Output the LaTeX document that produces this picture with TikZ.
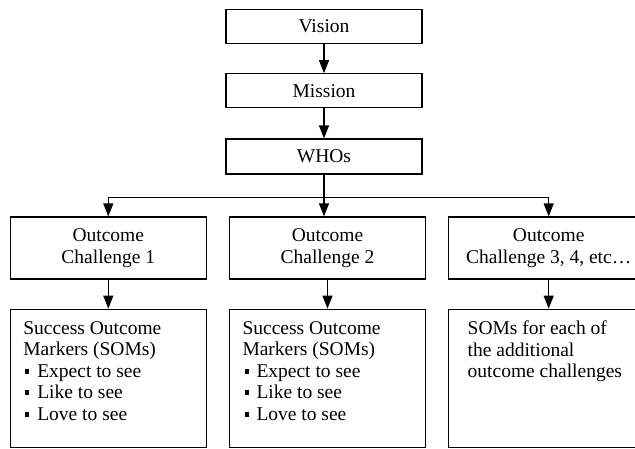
\documentclass[tikz,border=0pt]{standalone}
\usepackage{fontspec}
\setmainfont{Liberation Serif}
\usetikzlibrary{positioning,arrows.meta}
\newcommand{\sqmark}{\makebox[14pt][l]{\hspace{2pt}\rule[3.5pt]{4pt}{5pt}}}
\newcommand{\somtext}[1]{\begin{minipage}[t][114pt][t]{170pt}\raggedright #1\end{minipage}}

\begin{document}
\begin{tikzpicture}[
      every node/.style={font=\fontsize{19.5}{21.5}\selectfont, align=center},
      level/.style={draw, line width=1.2pt, minimum width=196pt, minimum height=34pt, inner sep=2pt},
      challenge/.style={draw, line width=1.2pt, minimum width=196pt, minimum height=62pt, inner sep=2pt},
      markers/.style={draw, line width=1.2pt, minimum width=196pt, minimum height=138pt, inner sep=0pt},
      link/.style={line width=1.2pt, -{Triangle[width=10pt,length=13pt]}}
  ]
    \clip (0,0) rectangle (635pt,-448pt);
    \node[level, minimum height=35pt] (whos) at (324pt,-156.5pt) {WHOs};
    \node[level, above=30pt of whos] (mission) {Mission};
    \node[level, above=29pt of mission] (vision) {Vision};
    \node[challenge] (oc2) at (327.5pt,-248pt) {Outcome\\Challenge 2};
    \node[challenge, left=22pt of oc2] (oc1) {Outcome\\Challenge 1};
    \node[challenge, right=22pt of oc2, minimum width=200pt] (oc3) {Outcome\\Challenge 3, 4, etc…};
    \node[markers, below=29pt of oc1] (som1) {\somtext{Success Outcome\\Markers (SOMs)\\
      \sqmark Expect to see\\\sqmark Like to see\\\sqmark Love to see}};
    \node[markers, below=29pt of oc2] (som2) {\somtext{Success Outcome\\Markers (SOMs)\\
      \sqmark Expect to see\\\sqmark Like to see\\\sqmark Love to see}};
    \node[markers, below=29pt of oc3, minimum width=200pt] (som3) {\somtext{\hspace*{4pt}SOMs for each of\\
      \hspace*{4pt}the additional\\\hspace*{4pt}outcome challenges}};
    \coordinate[below=23pt of whos.south] (split);
    \draw[link] (vision) -- (mission);
    \draw[link] (mission) -- (whos);
    \draw[link] (whos.south) -- (whos.south |- oc2.north);
    \draw[line width=1.2pt] (oc1.north |- split) -- (oc3.north |- split);
    \draw[link] (oc1.north |- split) -- (oc1.north);
    \draw[link] (oc3.north |- split) -- (oc3.north);
    \draw[link] (oc1) -- (som1);
    \draw[link] (oc2) -- (som2);
    \draw[link] (oc3) -- (som3);
  \end{tikzpicture}
\end{document}
